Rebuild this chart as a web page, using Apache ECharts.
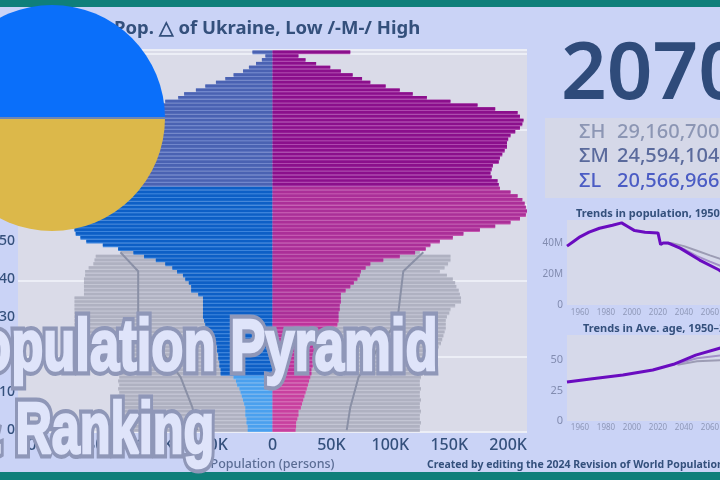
<!DOCTYPE html>
<html>
<head>
<meta charset="utf-8">
<style>html,body{margin:0;padding:0;background:#cad3f6}#main{width:720px;height:480px}</style>
<script src="https://cdn.jsdelivr.net/npm/echarts@6/dist/echarts.min.js"></script>
</head>
<body>
<div id="main"></div>
<script>
// Single-year ages, youngest first; widths in thousands of persons.
const maleK = [21,21,22,22,23,23,23,24,25,26,27,28,30,31,33,44,44,45,45,46,46,47,47,48,50,52,54,56,57,58,59,59,59,59,59,59,63,69,69,71,74,76,81,85,91,99,109,118,131,144,158,163,167,168,172,176,180,185,190,194,197,192,188,182,175,170,168,166,165,166,168,172,176,178,180,182,184,185,187,190,193,195,196,195,192,175,160,91,80,75,65,57,48,40,33,25,20,14,9,6,17];
const femaleK = [19.5,20,20,21,22,22,24,25,26,27,28,29,30,31,32,33,33,34,34,34,35,35,36,38,41,44,48,52,55,56,56,56,57,57,58,58,58,62,66,69,72,74,75,79,83,94,108,121,130,134,142,153,162,176,189,202,210,215,216,215,214,212,208,202,193,192,191,186,185,186,187,192,193,195,197,199,199,200,202,206,210,212,213,210,208,189,174,151,131,119,108,96,83,76,68,58,49,37,28,22,66];
// Backdrop silhouette for ages 0 to 47.
const ghostMaleK = [130,130,131,130,131,130,130,131,130,131,130,131,130,131,130,134,138,142,146,150,153,156,158,160,162,164,166,167,168,168,168,168,168,168,168,168,160,160,160,160,160,159,159,156,152,151,150,129];
const ghostFemaleK = [125,125,126,125,125,126,125,125,126,125,125,126,125,125,126,128,130,132,134,136,138,140,141,143,144,145,146,147,147,147,148,150,151,155,160,160,159,158,156,155,153,148,142,146,149,151,151,125];
// Thin reference outline, [age, thousands].
const outlineAges = [0,6,14,29,42,47];
const outlineMaleK = [64,68,78,114,114,129];
const outlineFemaleK = [63,66,73,106,111,128];

const ageTicks = [-200,-150,-100,-50,0,50,100,150,200];
const scenarioNames = ['ΣH','ΣM','ΣL'];
const scenarioTotals = [29160700,24594104,20566966];
const shownYear = '2070';

const yearLabels = [1960,1980,2000,2020,2040,2060,2080,2100];
const popHistory = [[1950,38],[1955,41],[1960,44],[1967,47],[1975,49.5],[1985,51.5],[1992,53],[1997,50.5],[2002,48],[2010,47],[2020,46.5],[2022,39],[2024,40]];
const popLow = [[2028,40],[2037,36.7],[2052,29],[2067,22.6],[2070,20.57]];
const popMedium = [[2024,40],[2030,39.5],[2040,36],[2050,31.5],[2060,28],[2070,24.59],[2100,16]];
const popHigh = [[2024,40],[2030,40],[2040,38],[2050,35],[2060,32],[2070,29.16],[2100,25]];
const ageHistory = [[1950,32],[1968,34.4],[1993,37.7],[2016,41.8],[2032,46.5],[2049,54],[2068,59.8],[2070,60.4]];
const ageMedium = [[2035,47],[2050,51.5],[2070,54],[2100,58]];
const ageHigh = [[2035,46],[2050,49],[2070,50],[2100,51]];

const NAVY = '#34507c';
const SANS = '"Noto Sans","Open Sans",sans-serif';
const HEAD_FONT = '700 72px "Liberation Sans",sans-serif';
const ages = maleK.map((_, i) => String(i));

// Core and edge tints per age band
const maleColor = a => a >= 65 ? '#4a62b2' : a >= 15 ? '#0d5fc6' : '#4aa0ee';
const maleEdge = a => a >= 65 ? '#7187cc' : a >= 15 ? '#3c84dc' : '#78b8f2';
const femaleColor = a => a >= 65 ? '#8b0f8c' : a >= 30 ? '#ab2f98' : a >= 15 ? '#bd339b' : '#c8409f';
const femaleEdge = a => a >= 65 ? '#ae48ae' : a >= 30 ? '#c458b0' : a >= 15 ? '#d060b4' : '#d870b8';

const barLayer = (data, width, z, extra) => Object.assign({type: 'bar', barGap: '-100%', barWidth: width, z, silent: true, data}, extra || {});

// Outlined headline: a wide grey stroke under a slightly fattened light face
const headline = (text, x, y, scaleX) => [
  {type: 'text', z: 80, x, y, scaleX, style: {text, font: HEAD_FONT, fill: '#8f97b8', stroke: '#8f97b8', lineWidth: 11}},
  {type: 'text', z: 81, x, y, scaleX, style: {text, font: HEAD_FONT, fill: '#dfe4fa', stroke: '#dfe4fa', lineWidth: 2.5}}
];

const chart = echarts.init(document.getElementById('main'));
chart.setOption({
  animation: false,
  backgroundColor: '#cad3f6',
  title: [
    {text: 'Pop. △ of Ukraine, Low /-M-/ High', left: 109, top: 14, textStyle: {fontFamily: SANS, fontSize: 18.5, fontWeight: 700, color: NAVY}},
    {text: 'Trends in population, 1950–2100', left: 571, top: 203, textStyle: {fontFamily: SANS, fontSize: 11, fontWeight: 700, color: NAVY}},
    {text: 'Trends in Ave. age, 1950–2100', left: 578, top: 318, textStyle: {fontFamily: SANS, fontSize: 11, fontWeight: 700, color: NAVY}}
  ],
  grid: [
    {left: 18, top: 50, width: 509, height: 382, outerBoundsMode: 'none', show: true, backgroundColor: '#dadbe8', borderWidth: 0},
    {left: 567, top: 220, width: 195, height: 85, outerBoundsMode: 'none', show: true, backgroundColor: '#d6d9ea', borderWidth: 0},
    {left: 567, top: 335, width: 195, height: 86, outerBoundsMode: 'none', show: true, backgroundColor: '#d6d9ea', borderWidth: 0}
  ],
  xAxis: [
    {gridIndex: 0, type: 'value', min: -216, max: 216, splitLine: {show: false}, axisLine: {show: false}, axisTick: {show: false},
     axisLabel: {customValues: ageTicks, margin: 5, fontFamily: SANS, fontSize: 16, fontWeight: 500, color: NAVY, formatter: v => v === 0 ? '0' : Math.abs(v) + 'K'},
     name: 'Population (persons)', nameLocation: 'middle', nameGap: 23, nameTextStyle: {fontFamily: SANS, fontSize: 12.5, fontWeight: 500, color: '#5a6c94'}},
    {gridIndex: 1, type: 'value', min: 1950, max: 2100, splitLine: {show: false}, axisLine: {show: false}, axisTick: {show: false},
     axisLabel: {customValues: yearLabels, margin: 4, fontSize: 8, color: '#8f98b8', fontFamily: SANS, formatter: v => String(v)}},
    {gridIndex: 2, type: 'value', min: 1950, max: 2100, splitLine: {show: false}, axisLine: {show: false}, axisTick: {show: false},
     axisLabel: {customValues: yearLabels, margin: 3, fontSize: 8, color: '#8f98b8', fontFamily: SANS, formatter: v => String(v)}}
  ],
  yAxis: [
    {gridIndex: 0, type: 'category', data: ages, axisLine: {show: false}, axisTick: {show: false},
     splitLine: {show: true, interval: i => i % 20 === 0, lineStyle: {color: '#eceef6', width: 2}},
     axisLabel: {interval: 9, margin: 3, fontFamily: SANS, fontSize: 14, fontWeight: 500, color: NAVY}},
    {gridIndex: 1, type: 'value', min: 0, max: 54.84, splitLine: {show: false}, axisLine: {show: false}, axisTick: {show: false},
     axisLabel: {customValues: [0,20,40], margin: 4, fontSize: 10, color: '#828cb0', fontFamily: SANS, formatter: v => v === 0 ? '0' : v + 'M'}},
    {gridIndex: 2, type: 'value', min: 0, max: 70.5, splitLine: {show: false}, axisLine: {show: false}, axisTick: {show: false},
     axisLabel: {customValues: [0,25,50], margin: 4, fontSize: 11, color: '#828cb0', fontFamily: SANS}}
  ],
  series: [
    barLayer(ghostMaleK.map(v => -v), '100%', 1, {itemStyle: {color: '#c4c6d4'}}),
    barLayer(ghostFemaleK, '100%', 1, {itemStyle: {color: '#c4c6d4'}}),
    barLayer(ghostMaleK.map(v => -v), '70%', 1, {itemStyle: {color: '#afb1c1'}}),
    barLayer(ghostFemaleK, '70%', 1, {itemStyle: {color: '#afb1c1'}}),
    {type: 'line', data: outlineAges.map((a, i) => [-outlineMaleK[i], a]), showSymbol: false, lineStyle: {color: '#8a90a6', width: 2}, z: 3},
    {type: 'line', data: outlineAges.map((a, i) => [outlineFemaleK[i], a]), showSymbol: false, lineStyle: {color: '#8a90a6', width: 2}, z: 3},
    barLayer(maleK.map((v, a) => ({value: -v, itemStyle: {color: maleEdge(a)}})), '100%', 4),
    barLayer(femaleK.map((v, a) => ({value: v, itemStyle: {color: femaleEdge(a)}})), '100%', 4),
    barLayer(maleK.map((v, a) => ({value: -v, itemStyle: {color: maleColor(a)}})), '70%', 5),
    barLayer(femaleK.map((v, a) => ({value: v, itemStyle: {color: femaleColor(a)}})), '70%', 5),

    {type: 'line', xAxisIndex: 1, yAxisIndex: 1, data: popHigh, showSymbol: false, lineStyle: {color: '#9c9cb4', width: 2}},
    {type: 'line', xAxisIndex: 1, yAxisIndex: 1, data: popMedium, showSymbol: false, lineStyle: {color: '#a392c8', width: 2}},
    {type: 'line', xAxisIndex: 1, yAxisIndex: 1, data: popHistory.concat(popLow), showSymbol: false, z: 4, lineStyle: {color: '#6a0cc0', width: 3}},

    {type: 'line', xAxisIndex: 2, yAxisIndex: 2, data: ageHigh, showSymbol: false, lineStyle: {color: '#9c9cb4', width: 2}},
    {type: 'line', xAxisIndex: 2, yAxisIndex: 2, data: ageMedium, showSymbol: false, lineStyle: {color: '#a392c8', width: 2}},
    {type: 'line', xAxisIndex: 2, yAxisIndex: 2, data: ageHistory, showSymbol: false, z: 4, lineStyle: {color: '#6a0cc0', width: 3}}
  ],
  graphic: {elements: [
    // Teal frame bands
    {type: 'rect', z: 50, shape: {x: 0, y: 0, width: 720, height: 7}, style: {fill: '#0f7f7a'}},
    {type: 'rect', z: 50, shape: {x: 0, y: 472, width: 720, height: 8}, style: {fill: '#0f7f7a'}},

    // Scenario totals panel
    {type: 'rect', z: 1, shape: {x: 545, y: 118, width: 175, height: 80}, style: {fill: '#d5d8e8'}},
    {type: 'text', z: 60, x: 561, y: 36, style: {text: shownYear, font: '600 80px "Noto Sans","Open Sans",sans-serif', fill: '#2f4b7a'}},
    ...scenarioNames.flatMap((name, i) => {
      const colors = ['#8c96b4', '#5a6a9c', '#4b5cc4'];
      const y = 132 + i * 24.5;
      return [
        {type: 'text', z: 60, x: 579, y, style: {text: name, font: '500 20px "Noto Sans",sans-serif', fill: colors[i], verticalAlign: 'middle'}},
        {type: 'text', z: 60, x: 617, y, style: {text: scenarioTotals[i].toLocaleString('en-US'), font: '500 20px "Noto Sans",sans-serif', fill: colors[i], verticalAlign: 'middle'}}
      ];
    }),

    // Source credit
    {type: 'text', z: 60, x: 427, y: 465, style: {text: 'Created by editing the 2024 Revision of World Population Prospects', font: '700 10.5px "Noto Sans",sans-serif', fill: NAVY, verticalAlign: 'middle'}},

    // Round flag badge
    {type: 'sector', z: 70, shape: {cx: 52, cy: 118, r: 113, startAngle: Math.PI, endAngle: 2 * Math.PI}, style: {fill: '#0a6ffa'}},
    {type: 'sector', z: 70, shape: {cx: 52, cy: 118, r: 113, startAngle: 0, endAngle: Math.PI}, style: {fill: '#dcb84a'}},
    {type: 'rect', z: 71, shape: {x: -61, y: 117, width: 226, height: 2}, style: {fill: '#6f86b4'}},

    // Headline lettering
    ...headline('Population Pyramid', -56, 314, 0.73),
    ...headline('& Ranking', -35, 397, 0.70)
  ]}
});
</script>
</body>
</html>
